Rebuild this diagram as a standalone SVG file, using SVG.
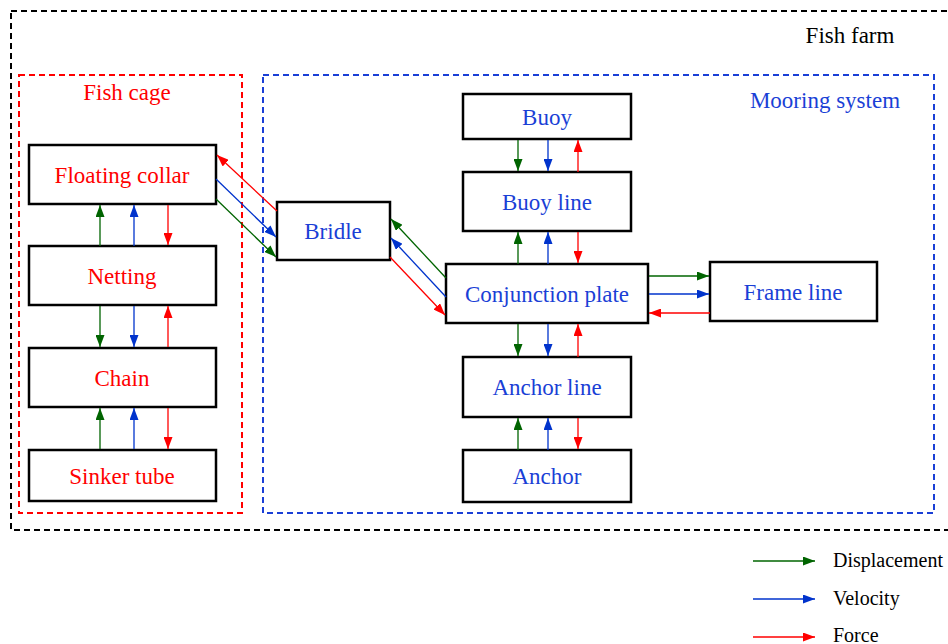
<svg xmlns="http://www.w3.org/2000/svg" width="948" height="644" viewBox="0 0 948 644">
<defs>
<marker id="ag" viewBox="0 0 12 9" refX="12" refY="4.5" markerWidth="12" markerHeight="9" markerUnits="userSpaceOnUse" orient="auto"><path d="M0,0 L12,4.5 L0,9 Z" fill="#006400"/></marker>
<marker id="ab" viewBox="0 0 12 9" refX="12" refY="4.5" markerWidth="12" markerHeight="9" markerUnits="userSpaceOnUse" orient="auto"><path d="M0,0 L12,4.5 L0,9 Z" fill="#0033cc"/></marker>
<marker id="ar" viewBox="0 0 12 9" refX="12" refY="4.5" markerWidth="12" markerHeight="9" markerUnits="userSpaceOnUse" orient="auto"><path d="M0,0 L12,4.5 L0,9 Z" fill="#ff0000"/></marker>
</defs>
<style>
text{font-family:"Liberation Serif","Times New Roman",serif;font-size:23px;text-anchor:middle}
.node rect{fill:#fff;stroke:#000;stroke-width:2.5}
.red{fill:#ff0000}
.blue{fill:#1a3fd6}
.g{stroke:#006400;stroke-width:1.3;fill:none;marker-end:url(#ag)}
.b{stroke:#0033cc;stroke-width:1.3;fill:none;marker-end:url(#ab)}
.r{stroke:#ff0000;stroke-width:1.3;fill:none;marker-end:url(#ar)}
.leg{text-anchor:start;font-size:20px;fill:#000}
</style>
<rect width="948" height="644" fill="#fff"/>
<g id="fish-farm">
<rect x="11" y="11" width="945" height="519" fill="none" stroke="#000" stroke-width="2" stroke-dasharray="6,4"/>
<text x="850" y="43" fill="#000">Fish farm</text>
</g>
<g id="fish-cage">
<rect x="19" y="75" width="223" height="438" fill="none" stroke="#ff0000" stroke-width="2" stroke-dasharray="6,4"/>
<text x="127" y="100" class="red">Fish cage</text>
</g>
<g id="mooring-system">
<rect x="263" y="75" width="671" height="438" fill="none" stroke="#1a3fd6" stroke-width="2" stroke-dasharray="6,4"/>
<text x="825" y="108" class="blue">Mooring system</text>
</g>
<g id="floating-collar" class="node"><rect x="29" y="145" width="187" height="59"/><text x="122" y="183" class="red">Floating collar</text></g>
<g id="netting" class="node"><rect x="29" y="246" width="187" height="59"/><text x="122" y="284" class="red">Netting</text></g>
<g id="chain" class="node"><rect x="29" y="348" width="187" height="59"/><text x="122" y="386" class="red">Chain</text></g>
<g id="sinker-tube" class="node"><rect x="29" y="450" width="187" height="51"/><text x="122" y="484" class="red">Sinker tube</text></g>
<g id="bridle" class="node"><rect x="277" y="202" width="113" height="58"/><text x="333" y="239" class="blue">Bridle</text></g>
<g id="buoy" class="node"><rect x="463" y="94" width="168" height="45"/><text x="547" y="125" class="blue">Buoy</text></g>
<g id="buoy-line" class="node"><rect x="463" y="172" width="168" height="59"/><text x="547" y="210" class="blue">Buoy line</text></g>
<g id="conjunction-plate" class="node"><rect x="446" y="264" width="202" height="59"/><text x="547" y="302" class="blue">Conjunction plate</text></g>
<g id="frame-line" class="node"><rect x="710" y="262" width="167" height="59"/><text x="793" y="300" class="blue">Frame line</text></g>
<g id="anchor-line" class="node"><rect x="463" y="357" width="168" height="60"/><text x="547" y="395" class="blue">Anchor line</text></g>
<g id="anchor" class="node"><rect x="463" y="450" width="168" height="52"/><text x="547" y="484" class="blue">Anchor</text></g>
<g id="connectors">
<line class="g" x1="100" y1="246" x2="100" y2="205"/>
<line class="b" x1="134" y1="246" x2="134" y2="205"/>
<line class="r" x1="168" y1="205" x2="168" y2="245"/>
<line class="g" x1="100" y1="306" x2="100" y2="347"/>
<line class="b" x1="134" y1="306" x2="134" y2="347"/>
<line class="r" x1="168" y1="347" x2="168" y2="306"/>
<line class="g" x1="100" y1="449" x2="100" y2="408"/>
<line class="b" x1="134" y1="449" x2="134" y2="408"/>
<line class="r" x1="168" y1="408" x2="168" y2="449"/>
<line class="r" x1="277" y1="211" x2="217" y2="155"/>
<line class="b" x1="216" y1="179" x2="276" y2="237"/>
<line class="g" x1="216" y1="199" x2="276" y2="257"/>
<line class="g" x1="446" y1="278" x2="391" y2="219"/>
<line class="b" x1="446" y1="297" x2="391" y2="238"/>
<line class="r" x1="390" y1="257" x2="445" y2="315"/>
<line class="g" x1="518" y1="140" x2="518" y2="171"/>
<line class="b" x1="548" y1="140" x2="548" y2="171"/>
<line class="r" x1="578" y1="172" x2="578" y2="140"/>
<line class="g" x1="518" y1="264" x2="518" y2="232"/>
<line class="b" x1="548" y1="264" x2="548" y2="232"/>
<line class="r" x1="578" y1="232" x2="578" y2="263"/>
<line class="g" x1="649" y1="276" x2="709" y2="276"/>
<line class="b" x1="649" y1="294" x2="709" y2="294"/>
<line class="r" x1="710" y1="313" x2="649" y2="313"/>
<line class="g" x1="518" y1="324" x2="518" y2="356"/>
<line class="b" x1="548" y1="324" x2="548" y2="356"/>
<line class="r" x1="578" y1="357" x2="578" y2="324"/>
<line class="g" x1="518" y1="450" x2="518" y2="418"/>
<line class="b" x1="548" y1="450" x2="548" y2="418"/>
<line class="r" x1="578" y1="418" x2="578" y2="449"/>
</g>
<g id="legend">
<line class="g" x1="753" y1="561" x2="815" y2="561"/>
<line class="b" x1="753" y1="599" x2="815" y2="599"/>
<line class="r" x1="753" y1="637" x2="815" y2="637"/>
<text x="833" y="567" class="leg">Displacement</text>
<text x="833" y="605" class="leg">Velocity</text>
<text x="833" y="642" class="leg">Force</text>
</g>
</svg>
